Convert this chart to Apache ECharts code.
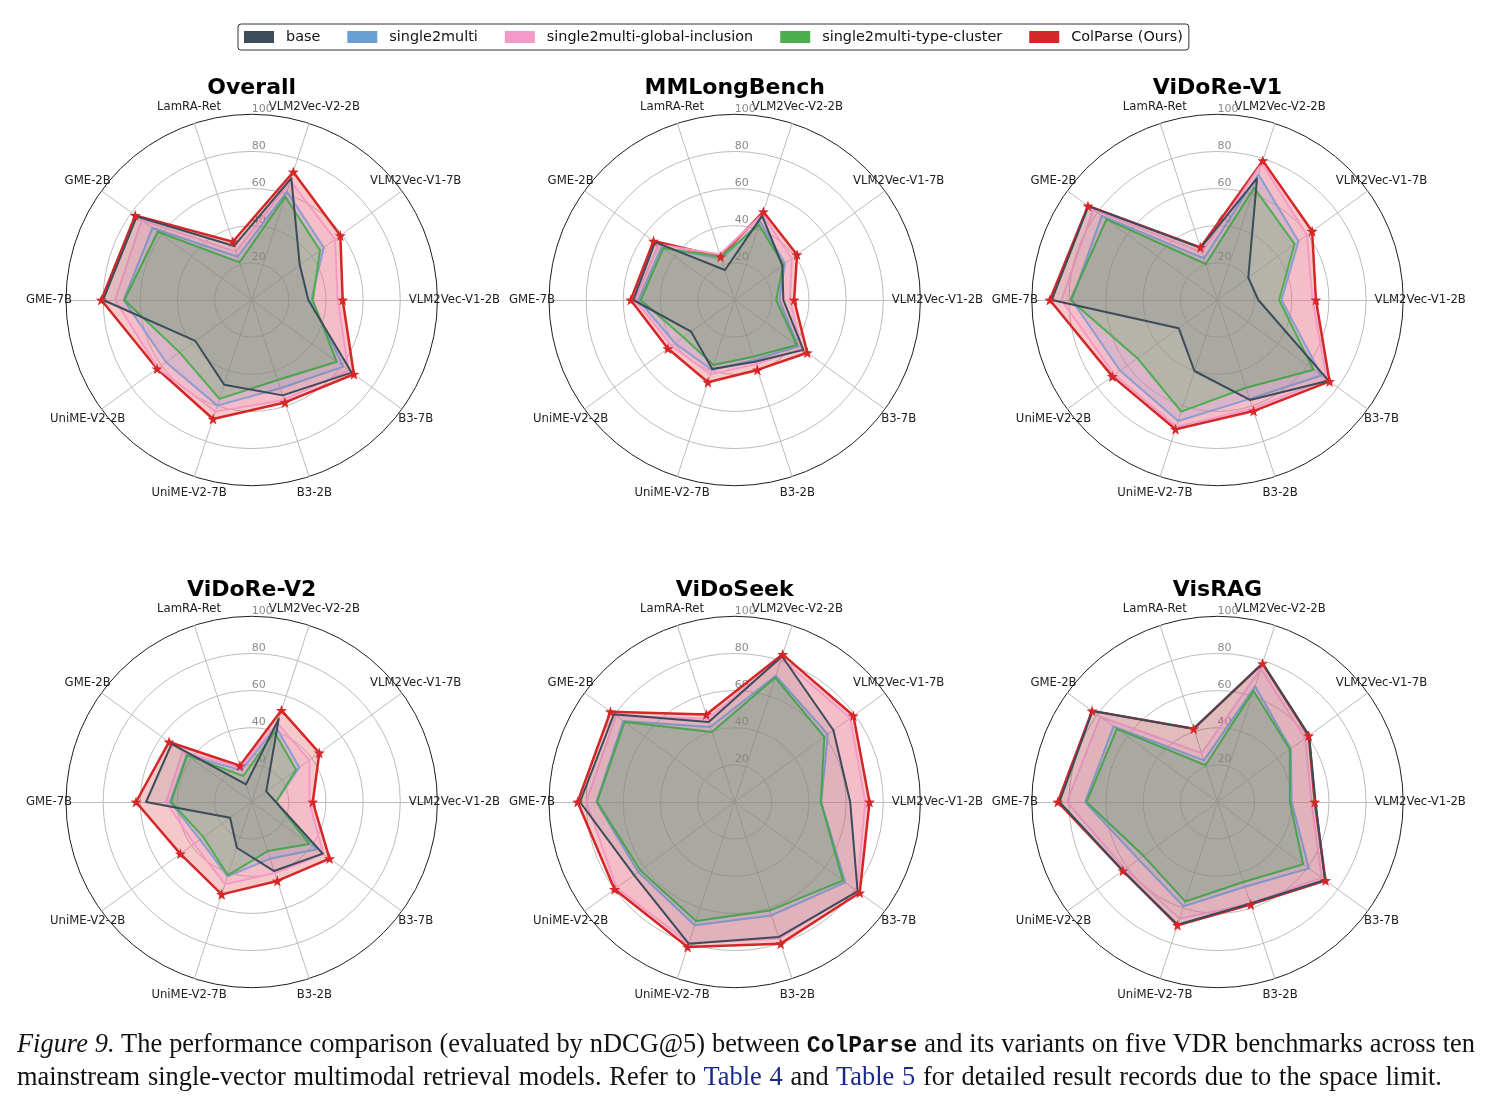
<!DOCTYPE html>
<html>
<head>
<meta charset="utf-8">
<script src="https://cdn.jsdelivr.net/npm/echarts@6/dist/echarts.min.js"></script>
<style>
html,body{margin:0;padding:0;background:#fff;}
#chart{position:absolute;left:0;top:0;width:1493px;height:1103px;}
#cap{position:absolute;left:17px;top:1028px;width:1458px;font-family:'Liberation Serif','Times New Roman',serif;font-size:26.4px;line-height:30px;color:#111;}
#cap .l1{text-align:justify;text-align-last:justify;white-space:nowrap;}
#cap .l2{text-align:left;white-space:nowrap;word-spacing:1.2px;}
#cap .mono{font-family:'Liberation Mono','DejaVu Sans Mono',monospace;font-weight:bold;font-size:23px;}
#cap .ref{color:#1a2a8c;}
</style>
</head>
<body>
<div id="chart"></div>
<div id="cap">
<div class="l1"><i>Figure 9.</i> The performance comparison (evaluated by nDCG@5) between <span class="mono">ColParse</span> and its variants on five VDR benchmarks across ten</div>
<div class="l2">mainstream single-vector multimodal retrieval models. Refer to <span class="ref">Table 4</span> and <span class="ref">Table 5</span> for detailed result records due to the space limit.</div>
</div>
<script>
// ---------- DATA ----------
// indicator order (counter-clockwise from the right)
const indicatorNames = ['VLM2Vec-V1-2B','VLM2Vec-V1-7B','VLM2Vec-V2-2B','LamRA-Ret','GME-2B','GME-7B','UniME-V2-2B','UniME-V2-7B','B3-2B','B3-7B'];
const panelTitles = ['Overall','MMLongBench','ViDoRe-V1','ViDoRe-V2','ViDoSeek','VisRAG'];
const seriesNames = ['base','single2multi','single2multi-global-inclusion','single2multi-type-cluster','ColParse (Ours)'];
const radialTicks = [20,40,60,80,100];

const overall_base = [30.5, 32, 69, 30.6, 76.5, 80, 37.5, 48, 54, 66.5];
const overall_s2m  = [32, 48, 61.4, 24.5, 66, 69, 57, 59.8, 50, 61];
const overall_gi   = [46.3, 55.5, 67.4, 27.4, 73.2, 73.6, 62.5, 63.2, 56.6, 64.5];
const overall_tc   = [32.9, 45.5, 58.5, 21.3, 62.5, 68.6, 48, 56, 45.3, 56.6];
const overall_cp   = [49, 59, 72.5, 33, 77.5, 81, 63, 67.4, 58, 68];

const mml_base = [26.2, 31.7, 47.8, 17, 53, 54.6, 29, 39.1, 35, 45.7];
const mml_s2m  = [24, 33.5, 44.4, 23, 48.6, 51.9, 39.7, 39.6, 34, 42.4];
const mml_gi   = [29.8, 38, 48.5, 25.9, 50.8, 53.7, 42, 42.1, 36.4, 44.6];
const mml_tc   = [22.3, 32.4, 42.5, 24.5, 47.5, 50.6, 34.2, 36.8, 32.1, 41.3];
const mml_cp   = [32, 41.5, 50, 24.5, 54, 56, 44.5, 46.6, 39.6, 48.3];

const v1_base = [22, 20.5, 68.9, 29.5, 86, 89.2, 25.8, 40.2, 56.6, 73.9];
const v1_s2m  = [34.5, 53.9, 71.2, 23.6, 77, 78.5, 64.8, 68.5, 56, 69.2];
const v1_gi   = [51.2, 59.5, 77.5, 27, 82.8, 84, 68.6, 71.7, 61.4, 72.7];
const v1_tc   = [33.2, 51.3, 63.6, 20.4, 73.9, 79.2, 53.3, 63.2, 49.7, 63.9];
const v1_cp   = [53, 63, 78.9, 29.8, 86.2, 90.3, 70, 73.2, 62.9, 74.6];

const v2_base = [13, 9.7, 47.2, 10, 53.3, 56.9, 14.4, 25.9, 39.1, 47.3];
const v2_s2m  = [13.1, 31.7, 42.5, 18, 43.3, 44, 34.4, 42.1, 32.1, 43.3];
const v2_gi   = [31.1, 38.4, 44.7, 19.5, 45.9, 46.1, 38.4, 46.6, 40.2, 47.7];
const v2_tc   = [13.1, 29.5, 39.6, 14.7, 43, 43.4, 32.2, 41.5, 27.8, 38.4];
const v2_cp   = [32.9, 45, 51.9, 20.5, 55, 62.3, 47.5, 52.3, 44.7, 51.8];

const seek_base = [62.2, 65.7, 82.5, 45.3, 80.4, 83.3, 67, 80.2, 76.5, 81.8];
const seek_s2m  = [46.6, 62, 71.5, 42.5, 74.2, 74.5, 64.2, 69.8, 64.2, 73.6];
const seek_gi   = [70.3, 76.9, 81.2, 47.2, 79, 79.9, 78.6, 79.9, 77.4, 81.4];
const seek_tc   = [46.4, 59.6, 70.5, 39.6, 73.3, 74.1, 62.7, 67.4, 61.4, 72];
const seek_cp   = [72.6, 79, 83.6, 49.6, 82.7, 84.6, 80, 82.1, 80.2, 83.2];

const vis_base = [52.8, 61, 78.6, 41.5, 83.3, 85.1, 63, 69.5, 57.5, 71.5];
const vis_s2m  = [39.9, 48.8, 65.5, 23.6, 69.2, 71.3, 52.6, 59.1, 48, 60.8];
const vis_gi   = [50.6, 58.4, 75.5, 27.7, 78.1, 81.1, 61.5, 66.1, 57.5, 69.3];
const vis_tc   = [39, 48.2, 62.9, 20.8, 67, 70.5, 49.3, 56.3, 45.3, 57];
const vis_cp   = [52.4, 60.7, 78.4, 41.5, 83.5, 86, 63, 69.8, 58, 71.9];

const panelData = [
  [overall_base, overall_s2m, overall_gi, overall_tc, overall_cp],
  [mml_base, mml_s2m, mml_gi, mml_tc, mml_cp],
  [v1_base, v1_s2m, v1_gi, v1_tc, v1_cp],
  [v2_base, v2_s2m, v2_gi, v2_tc, v2_cp],
  [seek_base, seek_s2m, seek_gi, seek_tc, seek_cp],
  [vis_base, vis_s2m, vis_gi, vis_tc, vis_cp]
];

// ---------- STYLE / LAYOUT ----------
const lineColors = ['#3c4c5a','#6a9fd2','#f59ac8','#4cae4c','#d62728'];
const fillOpacity = [0.1, 0.25, 0.25, 0.25, 0.25];
const drawOrder = [4, 1, 2, 3, 0];
const colX = [251.7, 734.7, 1217.5];
const rowY = [300, 802];
const R = 185.7;
const gridGray = '#bcbcbc';
const starPath = 'path://M0,-10 L2.35,-3.24 L9.51,-3.09 L3.8,1.24 L5.88,8.09 L0,4 L-5.88,8.09 L-3.8,1.24 L-9.51,-3.09 L-2.35,-3.24 Z';

const radars = [], series = [], titles = [];
panelTitles.forEach((t, pi) => {
  const cx = colX[pi % 3], cy = rowY[Math.floor(pi / 3)];
  titles.push({
    text: t, left: cx, top: cy - 223, textAlign: 'center', padding: 0,
    textStyle: {fontFamily: 'DejaVu Sans', fontSize: 22, fontWeight: 'bold', color: '#000'}
  });
  radars.push({
    center: [cx, cy], radius: R, startAngle: 0, shape: 'circle', splitNumber: 5,
    indicator: indicatorNames.map(n => ({name: n, min: 0, max: 100})),
    nameGap: 17,
    axisName: {color: '#222', fontFamily: 'DejaVu Sans', fontSize: 11.7, align: 'center', verticalAlign: 'middle'},
    splitLine: {lineStyle: {color: [gridGray, gridGray, gridGray, gridGray, gridGray, '#1e1e1e'], width: 1}},
    splitArea: {show: false},
    axisLine: {lineStyle: {color: gridGray, width: 1}},
    axisTick: {show: false},
    axisLabel: {show: false}
  });
});
// radial tick-label radars (one hidden vertical axis per panel)
panelTitles.forEach((t, pi) => {
  const cx = colX[pi % 3], cy = rowY[Math.floor(pi / 3)];
  radars.push({
    center: [cx, cy], radius: R, startAngle: 90, shape: 'circle', splitNumber: 5,
    indicator: [{name: '', min: 0, max: 100}],
    axisName: {show: false},
    splitLine: {show: false}, splitArea: {show: false},
    axisLine: {show: false}, axisTick: {show: false},
    axisLabel: {show: true, margin: 0, color: '#8a8a8a', fontFamily: 'DejaVu Sans', fontSize: 11,
      align: 'left', verticalAlign: 'bottom',
      formatter: v => radialTicks.indexOf(Number(v)) >= 0 ? String(v) : ''}
  });
});

panelData.forEach((pd, pi) => {
  drawOrder.forEach(si => {
    const isCp = si === 4;
    series.push({
      type: 'radar', radarIndex: pi, silent: true,
      symbol: isCp ? starPath : 'none', symbolSize: 11, symbolKeepAspect: true,
      data: [{name: seriesNames[si], value: pd[si]}],
      lineStyle: {color: lineColors[si], width: isCp ? 2.5 : 2},
      itemStyle: {color: lineColors[si]},
      areaStyle: {color: lineColors[si], opacity: fillOpacity[si]}
    });
  });
});

const chart = echarts.init(document.getElementById('chart'), null, {renderer: 'canvas', width: 1493, height: 1103});
chart.setOption({
  animation: false,
  backgroundColor: '#fff',
  title: titles,
  legend: {
    data: seriesNames.map((n, i) => ({name: n, icon: 'rect', itemStyle: {color: lineColors[i], borderWidth: 0}})),
    left: 238, top: 24, padding: [6, 6], itemGap: 27, itemWidth: 30, itemHeight: 12,
    borderColor: '#333', borderWidth: 1, borderRadius: 3, selectedMode: false,
    textStyle: {fontFamily: 'DejaVu Sans', fontSize: 14.4, color: '#111', padding: [0, 0, 0, 7]}
  },
  radar: radars,
  series: series
});
</script>
</body>
</html>
